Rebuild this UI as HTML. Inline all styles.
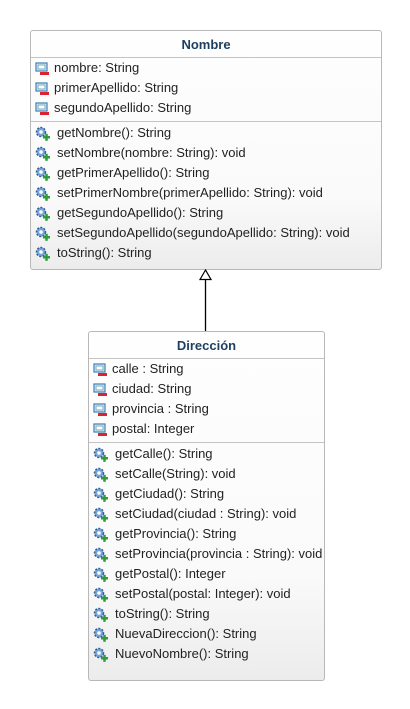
<!DOCTYPE html>
<html><head><meta charset="utf-8"><style>
body{margin:0;width:410px;height:709px;background:#fff;position:relative;font-family:"Liberation Sans",sans-serif;overflow:hidden}
.box{position:absolute;border:1px solid #b8b8b8;border-radius:3px;background:linear-gradient(#fefefe,#fafafa 70%,#ececec);box-sizing:border-box}
.hd{height:26px;line-height:28px;text-align:center;font-weight:bold;font-size:13px;color:#1e3f5f;border-bottom:1px solid #c4c4c4}
.sec{border-bottom:1px solid #c4c4c4;padding:0 0 3px}
.sec:last-child{border-bottom:none}
.m{padding-top:1px}
.r{height:20px;line-height:20px;font-size:13px;color:#222;padding-left:4px;white-space:nowrap;display:flex;align-items:center}
.r svg{margin-right:3px;flex:none}
.m svg{margin-right:6px}
</style></head><body>
<svg width="0" height="0" style="position:absolute">
<defs>
<g id="a"><rect x="1" y="2" width="11" height="8" fill="#dff0fa" stroke="#3a7fb8" stroke-width="1.2"/><rect x="3" y="4" width="7" height="4" fill="#fff" stroke="#7ab"/><rect x="5" y="11" width="9" height="3" fill="#d9232e"/></g>
<g id="m"><circle cx="6" cy="6" r="4.5" fill="#7aa6d6" stroke="#2f5f9a" stroke-width="1.5" stroke-dasharray="2 1.4"/><circle cx="6" cy="6" r="1.8" fill="#fff"/><rect x="8" y="10" width="7" height="2.5" fill="#2e9b3b"/><rect x="10.25" y="7.8" width="2.5" height="7" fill="#2e9b3b"/></g>
</defs></svg>

<div class="box" style="left:30px;top:30px;width:352px;height:240px">
<div class="hd">Nombre</div>
<div class="sec">
<div class="r"><svg width="16" height="15"><use href="#a"/></svg>nombre: String</div>
<div class="r"><svg width="16" height="15"><use href="#a"/></svg>primerApellido: String</div>
<div class="r"><svg width="16" height="15"><use href="#a"/></svg>segundoApellido: String</div>
</div>
<div class="sec m">
<div class="r"><svg width="16" height="15"><use href="#m"/></svg>getNombre(): String</div>
<div class="r"><svg width="16" height="15"><use href="#m"/></svg>setNombre(nombre: String): void</div>
<div class="r"><svg width="16" height="15"><use href="#m"/></svg>getPrimerApellido(): String</div>
<div class="r"><svg width="16" height="15"><use href="#m"/></svg>setPrimerNombre(primerApellido: String): void</div>
<div class="r"><svg width="16" height="15"><use href="#m"/></svg>getSegundoApellido(): String</div>
<div class="r"><svg width="16" height="15"><use href="#m"/></svg>setSegundoApellido(segundoApellido: String): void</div>
<div class="r"><svg width="16" height="15"><use href="#m"/></svg>toString(): String</div>
</div>
</div>

<svg style="position:absolute;left:0;top:0" width="410" height="709">
<line x1="205.5" y1="279" x2="205.5" y2="332" stroke="#000" stroke-width="1.3"/>
<polygon points="205.5,270 200,279.5 211,279.5" fill="#fff" stroke="#000" stroke-width="1.2"/>
</svg>

<div class="box" style="left:88px;top:331px;width:237px;height:350px">
<div class="hd">Dirección</div>
<div class="sec">
<div class="r"><svg width="16" height="15"><use href="#a"/></svg>calle : String</div>
<div class="r"><svg width="16" height="15"><use href="#a"/></svg>ciudad: String</div>
<div class="r"><svg width="16" height="15"><use href="#a"/></svg>provincia : String</div>
<div class="r"><svg width="16" height="15"><use href="#a"/></svg>postal: Integer</div>
</div>
<div class="sec m">
<div class="r"><svg width="16" height="15"><use href="#m"/></svg>getCalle(): String</div>
<div class="r"><svg width="16" height="15"><use href="#m"/></svg>setCalle(String): void</div>
<div class="r"><svg width="16" height="15"><use href="#m"/></svg>getCiudad(): String</div>
<div class="r"><svg width="16" height="15"><use href="#m"/></svg>setCiudad(ciudad : String): void</div>
<div class="r"><svg width="16" height="15"><use href="#m"/></svg>getProvincia(): String</div>
<div class="r"><svg width="16" height="15"><use href="#m"/></svg>setProvincia(provincia : String): void</div>
<div class="r"><svg width="16" height="15"><use href="#m"/></svg>getPostal(): Integer</div>
<div class="r"><svg width="16" height="15"><use href="#m"/></svg>setPostal(postal: Integer): void</div>
<div class="r"><svg width="16" height="15"><use href="#m"/></svg>toString(): String</div>
<div class="r"><svg width="16" height="15"><use href="#m"/></svg>NuevaDireccion(): String</div>
<div class="r"><svg width="16" height="15"><use href="#m"/></svg>NuevoNombre(): String</div>
</div>
</div>
</body></html>
